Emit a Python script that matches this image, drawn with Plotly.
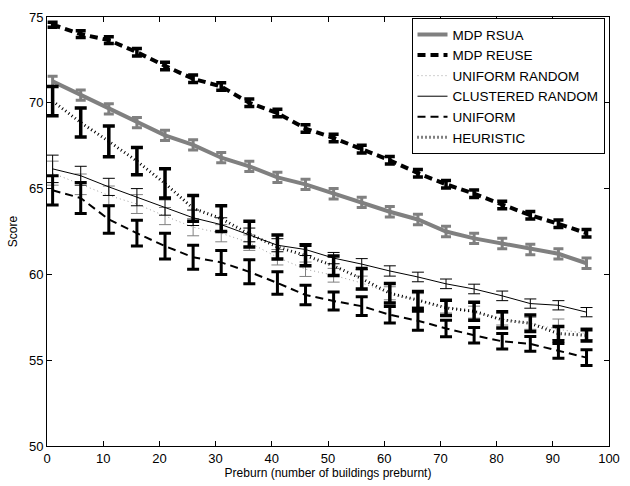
import plotly.graph_objects as go

preburn = [1, 6, 11, 16, 21, 26, 31, 36, 41, 46, 51, 56, 61, 66, 71, 76, 81, 86, 91, 96]

mdp_rsua = [71.25, 70.45, 69.65, 68.85, 68.1, 67.55, 66.8, 66.3, 65.65, 65.25, 64.7, 64.2,
            63.65, 63.2, 62.5, 62.1, 61.8, 61.45, 61.2, 60.65]
mdp_rsua_err = [0.3, 0.3, 0.3, 0.3, 0.3, 0.3, 0.3, 0.3, 0.3, 0.3, 0.3, 0.3,
                0.3, 0.3, 0.3, 0.3, 0.3, 0.3, 0.3, 0.3]

mdp_reuse = [74.55, 74.0, 73.65, 72.95, 72.15, 71.4, 70.95, 70.0, 69.4, 68.5, 67.95, 67.3,
             66.65, 65.9, 65.25, 64.7, 64.05, 63.45, 62.95, 62.4]
mdp_reuse_err = [0.15, 0.2, 0.2, 0.22, 0.22, 0.22, 0.22, 0.22, 0.22, 0.22, 0.22, 0.22,
                 0.22, 0.22, 0.22, 0.22, 0.22, 0.22, 0.22, 0.22]

uniform_random = [65.9, 65.25, 64.6, 64.1, 63.4, 62.75, 62.4, 61.85, 61.0, 60.3, 59.95, 59.5,
                  58.9, 58.5, 58.1, 57.8, 57.4, 57.15, 56.8, 56.55]
uniform_random_err = [0.7, 0.6, 0.55, 0.55, 0.5, 0.5, 0.5, 0.45, 0.45, 0.42, 0.4, 0.4,
                      0.38, 0.38, 0.35, 0.35, 0.35, 0.35, 0.6, 0.35]

clustered_random = [66.15, 65.75, 65.1, 64.5, 63.9, 63.3, 62.9, 62.3, 61.7, 61.45, 60.95, 60.6,
                    60.2, 59.85, 59.45, 59.15, 58.75, 58.3, 58.2, 57.8]
clustered_random_err = [0.8, 0.55, 0.5, 0.5, 0.45, 0.45, 0.4, 0.4, 0.38, 0.35, 0.33, 0.32,
                        0.3, 0.28, 0.28, 0.28, 0.28, 0.27, 0.27, 0.27]

uniform = [64.9, 64.45, 63.2, 62.4, 61.65, 61.0, 60.7, 60.15, 59.5, 58.8, 58.45, 58.15,
           57.65, 57.3, 56.85, 56.45, 56.1, 55.95, 55.55, 55.15]
uniform_err = [0.85, 0.9, 0.8, 0.75, 0.75, 0.7, 0.7, 0.7, 0.65, 0.57, 0.52, 0.55,
               0.48, 0.55, 0.48, 0.45, 0.45, 0.43, 0.43, 0.46]

heuristic = [70.1, 68.85, 67.75, 66.6, 65.3, 63.85, 63.25, 62.35, 61.6, 61.1, 60.5, 59.75,
             58.9, 58.5, 58.05, 57.85, 57.35, 57.15, 56.55, 56.45]
heuristic_err = [0.85, 0.85, 0.9, 0.8, 0.85, 0.75, 0.75, 0.75, 0.7, 0.6, 0.57, 0.6,
                 0.57, 0.5, 0.45, 0.52, 0.47, 0.48, 0.42, 0.33]

x_ticks = [0, 10, 20, 30, 40, 50, 60, 70, 80, 90, 100]
y_ticks = [50, 55, 60, 65, 70, 75]

GRAY = "#808080"
LGRAY = "#a0a0a0"
FONT = "Liberation Sans, Arial, Helvetica, sans-serif"

series = [
    ("MDP RSUA", mdp_rsua, mdp_rsua_err, dict(color=GRAY, width=4, dash="solid"), GRAY, 3, 5),
    ("MDP REUSE", mdp_reuse, mdp_reuse_err, dict(color="black", width=4, dash="8px,5px"), "black", 3.5, 5),
    ("UNIFORM RANDOM", uniform_random, uniform_random_err, dict(color=LGRAY, width=1, dash="1px,3px"), GRAY, 1, 6),
    ("CLUSTERED RANDOM", clustered_random, clustered_random_err, dict(color="black", width=1, dash="solid"), "black", 1, 6),
    ("UNIFORM", uniform, uniform_err, dict(color="black", width=2, dash="8px,5px"), "black", 3, 6),
    ("HEURISTIC", heuristic, heuristic_err, dict(color="black", width=3, dash="1px,3px"), "black", 3.5, 6),
]

fig = go.Figure()
for name, vals, errs, line, ecol, eth, ew in series:
    fig.add_trace(go.Scatter(
        x=preburn, y=vals, name=name, mode="lines", line=line,
        error_y=dict(type="data", array=errs, visible=True, color=ecol, thickness=eth, width=ew),
    ))

axis_common = dict(
    showline=True, linecolor="black", linewidth=1, mirror="ticks",
    ticks="inside", ticklen=5, tickcolor="black", showgrid=False, zeroline=False,
    tickfont=dict(family=FONT, size=13, color="black"),
)

fig.update_layout(
    width=630, height=486,
    margin=dict(l=47, r=10, t=11, b=38),
    paper_bgcolor="white", plot_bgcolor="white",
    font=dict(family=FONT, size=12, color="black"),
    xaxis=dict(range=[0, 100], tickvals=x_ticks,
               title=dict(text="Preburn (number of buildings preburnt)", standoff=2,
                          font=dict(family=FONT, size=12)),
               **axis_common),
    yaxis=dict(range=[50, 75], tickvals=y_ticks,
               title=dict(text="Score", standoff=8, font=dict(family=FONT, size=12)),
               **axis_common),
    legend=dict(x=0.992, y=0.997, xanchor="right", yanchor="top",
                bgcolor="white", bordercolor="black", borderwidth=1,
                font=dict(family=FONT, size=13.5, color="black"), tracegroupgap=0),
    showlegend=True,
)

fig.write_html("out.html")
